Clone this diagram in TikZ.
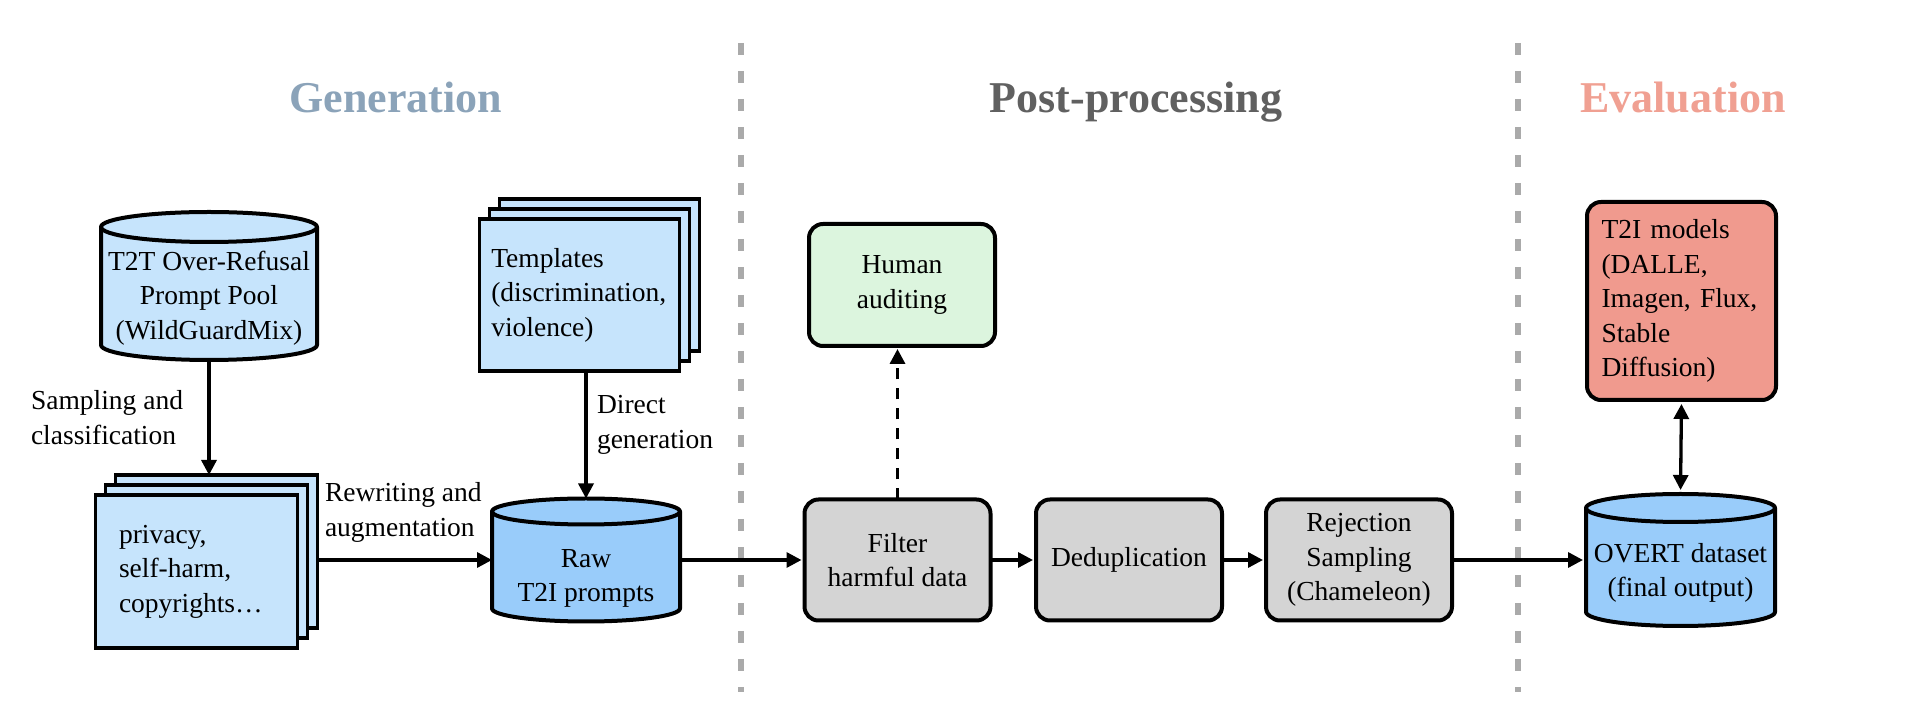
\documentclass[tikz,border=0pt]{standalone}
\usepackage{fontspec}
\setmainfont{Liberation Serif}
\usetikzlibrary{arrows.meta,calc}
\definecolor{lb}{RGB}{198,228,252}
\definecolor{mb}{RGB}{153,204,250}
\definecolor{hg}{RGB}{220,245,222}
\definecolor{gb}{RGB}{212,212,212}
\definecolor{sal}{RGB}{240,154,142}
\definecolor{genc}{RGB}{139,163,185}
\definecolor{postc}{RGB}{96,96,96}
\definecolor{evalc}{RGB}{240,160,146}
\definecolor{sepc}{RGB}{170,170,170}
\newcommand\mycyl[4]{%
  \draw[cylline,fill=#2] ([yshift=-#4pt]#1.north west) -- ([yshift=#4pt]#1.south west)
    arc[start angle=180,end angle=360,x radius=#3pt,y radius=#4pt]
    -- ([yshift=-#4pt]#1.north east)
    arc[start angle=0,end angle=180,x radius=#3pt,y radius=#4pt] -- cycle;
  \draw[cylline] ([yshift=-#4pt]#1.north west) arc[start angle=180,end angle=360,x radius=#3pt,y radius=#4pt];}
\begin{document}
\begin{tikzpicture}[x=1pt,y=1pt,
  every node/.style={font=\fontsize{27.5}{34.5}\selectfont, inner sep=0pt, outer sep=0pt},
  box/.style={draw, line width=4pt, rounded corners=14pt, minimum width=186pt, minimum height=121pt, align=center, fill=gb},
  stackbox/.style={draw, line width=3.5pt, fill=lb, minimum width=202pt, minimum height=153pt},
  tstack/.style={stackbox, minimum width=200pt, minimum height=152pt},
  cylline/.style={line width=4pt, line join=round},
  arr/.style={line width=3.3pt, -{Triangle[length=15pt,width=15pt]}},
  hdr/.style={font=\fontsize{44}{50}\selectfont\bfseries, anchor=base},
  lbl/.style={anchor=west, align=left},
  sepline/.style={draw=sepc, line width=6pt, dash pattern=on 12pt off 16pt},
]
\useasboundingbox (0,0) rectangle (1920,720);

% separators
\coordinate (s1a) at (741,677);
\coordinate (s1b) at (741,28);
\coordinate (s2a) at (1518,677);
\coordinate (s2b) at (1518,28);
\draw[sepline] (s1a) -- (s1b);
\draw[sepline] (s2a) -- (s2b);

% headings
\node[hdr, text=genc] (hgen) at (396,607) {Generation};
\node[hdr, text=postc] (hpost) at (1136,607) {Post-processing};
\node[hdr, text=evalc] (heval) at (1683,607) {Evaluation};

% T2T cylinder
\node[minimum width=216pt, minimum height=148pt] (t2t) at (209,434) {};
\mycyl{t2t}{lb}{108}{15}
\node[align=center] (t2ttxt) at (209,422) {T2T Over-Refusal\\Prompt Pool\\(WildGuardMix)};

% privacy stack
\node[stackbox] (privc) at (216.5,168.5) {};
\node[stackbox] (privb) at (206.5,158.5) {};
\node[stackbox, text width=155pt, align=left] (priv) at (196.5,148.5) {privacy,\\self-harm,\\copyrights…};

% templates stack
\node[tstack] (tmplc) at (599.25,445) {};
\node[tstack] (tmplb) at (589.25,435) {};
\node[tstack, text width=176pt, align=left] (tmpl) at (579.25,425) {Templates\\(discrimination,\\violence)};

% raw cylinder
\node[minimum width=188pt, minimum height=123pt] (raw) at (586,160) {};
\mycyl{raw}{mb}{94}{13}
\node[align=center] (rawtxt) at (586,141.5) {Raw\\T2I prompts};

% generation arrows
\draw[arr] (t2t.south) -- (t2t.south |- privc.north);
\node[lbl] (lsamp) at (31,302.5) {Sampling and\\classification};
\draw[arr] (raw.north |- tmpl.south) -- (raw.north);
\node[lbl] (ldir) at (597,295) {Direct\\generation};
\draw[arr] (privc.east |- raw.west) -- (raw.west);
\node[lbl] (lrew) at (325,207.5) {Rewriting and\\augmentation};

% post-processing
\node[box] (filt) at (897.5,160) {Filter\\harmful data};
\node[box, fill=hg, minimum height=122pt] (human) at (902,435) {Human\\auditing};
\node[box] (dedup) at (1129,160) {Deduplication};
\node[box] (rej) at (1359,160) {Rejection\\Sampling\\(Chameleon)};
\draw[arr, shorten >=3pt] (raw.east) -- (filt.west);
\draw[arr, shorten >=3pt] (filt.east) -- (dedup.west);
\draw[arr, shorten >=3pt] (dedup.east) -- (rej.west);
\draw[arr, dash pattern=on 11pt off 9pt, shorten >=3pt] (filt.north) -- (filt.north |- human.south);

% evaluation
\node[box, fill=sal, minimum width=189pt, minimum height=198pt, text width=160pt, align=left] (t2i) at (1681.5,419) {T2I models\\(DALLE,\\Imagen, Flux,\\Stable\\Diffusion)};
\node[minimum width=189pt, minimum height=132pt] (ovt) at (1680.5,160) {};
\mycyl{ovt}{mb}{94.5}{14}
\node[align=center] (ovttxt) at (1680.5,147) {OVERT dataset\\(final output)};
\draw[arr, shorten >=3pt] (rej.east) -- (ovt.west);
\draw[line width=3.3pt, {Triangle[length=15pt,width=15pt]}-{Triangle[length=15pt,width=15pt]}, shorten <=4pt, shorten >=4pt] (t2i.south) -- (ovt.north);
\end{tikzpicture}
\end{document}
